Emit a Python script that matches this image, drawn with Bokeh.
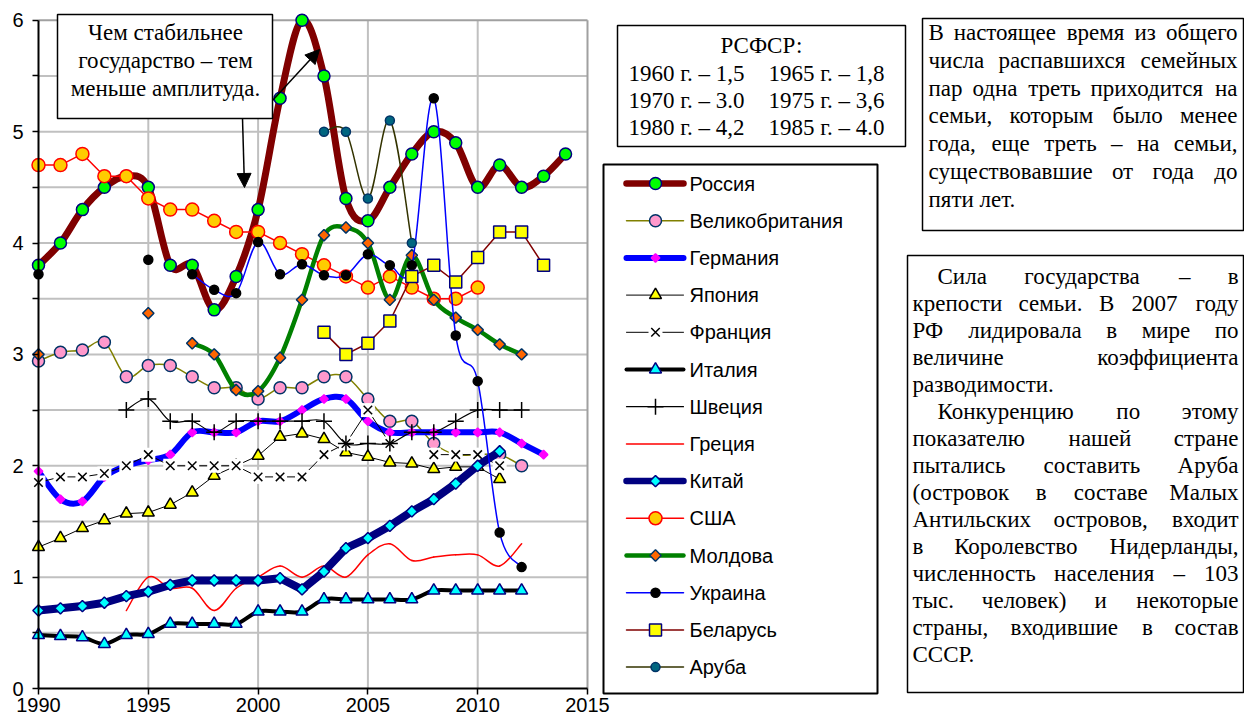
import math
from bokeh.plotting import figure
from bokeh.models import Range1d, FixedTicker, Arrow, NormalHead
from bokeh.embed import file_html
from bokeh.resources import INLINE
from bokeh.core.properties import value

# ---------------- data ----------------
N = None
years = list(range(1990, 2015))
russia = [3.8, 4.0, 4.3, 4.5, 4.6, 4.5, 3.8, 3.8, 3.4, 3.7, 4.3, 5.3, 6.0, 5.5, 4.4, 4.2, 4.5, 4.8, 5.0, 4.9, 4.5, 4.7, 4.5, 4.6, 4.8]
uk = [2.94, 3.02, 3.04, 3.11, 2.8, 2.9, 2.9, 2.8, 2.7, 2.7, 2.6, 2.7, 2.7, 2.8, 2.8, 2.6, 2.4, 2.4, 2.2, 2.1, 2.1, 2.1, 2.0, N, N]
germany = [1.95, 1.70, 1.68, 1.90, 2.0, 2.05, 2.1, 2.3, 2.3, 2.3, 2.4, 2.4, 2.5, 2.6, 2.6, 2.4, 2.3, 2.3, 2.3, 2.3, 2.3, 2.3, 2.2, 2.1, N]
japan = [1.27, 1.35, 1.44, 1.51, 1.57, 1.58, 1.65, 1.76, 1.91, 2.0, 2.09, 2.26, 2.29, 2.24, 2.12, 2.08, 2.03, 2.02, 1.97, 1.99, 1.99, 1.88, N, N, N]
france = [1.85, 1.9, 1.9, 1.93, 2.0, 2.1, 2.0, 2.0, 2.0, 2.0, 1.9, 1.9, 1.9, 2.1, 2.2, 2.5, 2.2, N, 2.1, 2.1, 2.1, 2.0, N, N, N]
italy = [0.48, 0.47, 0.46, 0.40, 0.48, 0.49, 0.58, 0.58, 0.58, 0.58, 0.69, 0.69, 0.69, 0.80, 0.80, 0.80, 0.80, 0.80, 0.88, 0.88, 0.88, 0.88, 0.88, N, N]
sweden = [N, N, N, N, 2.5, 2.6, 2.4, 2.4, 2.3, 2.4, 2.4, 2.4, 2.4, 2.4, 2.2, 2.2, 2.2, 2.3, 2.3, 2.4, 2.5, 2.5, 2.5, N, N]
greece = [N, N, N, N, 0.7, 1.0, 0.9, 0.9, 0.7, 0.9, 1.0, 1.1, 1.0, 1.1, 1.0, 1.2, 1.3, 1.15, 1.18, 1.2, 1.2, 1.1, 1.3, N, N]
china = [0.70, 0.72, 0.74, 0.77, 0.83, 0.87, 0.93, 0.97, 0.97, 0.97, 0.97, 0.99, 0.89, 1.05, 1.26, 1.35, 1.46, 1.59, 1.70, 1.84, 2.0, 2.13, N, N, N]
usa = [4.7, 4.7, 4.8, 4.6, 4.6, 4.4, 4.3, 4.3, 4.2, 4.1, 4.1, 4.0, 3.9, 3.8, 3.7, 3.6, 3.7, 3.6, 3.5, 3.5, 3.6, N, N, N, N]
moldova = [3.0, N, N, N, N, 3.37, N, 3.1, 3.0, 2.68, 2.67, 2.97, 3.49, 4.07, 4.14, 4.0, 3.49, 3.89, 3.49, 3.33, 3.22, 3.09, 3.0, N, N]
ukraine = [3.72, N, N, N, N, 3.85, N, 3.72, 3.58, 3.55, 4.01, 3.72, 3.81, 3.71, 3.71, 3.90, 3.80, 3.80, 5.30, 3.17, 2.76, 1.40, 1.09, N, N]
belarus = [N] * 13 + [3.2, 3.0, 3.1, 3.3, 3.7, 3.8, 3.65, 3.87, 4.1, 4.1, 3.8, N]
aruba = [N] * 13 + [5.0, 5.0, 4.4, 5.1, 4.0] + [N] * 7

names = ["Россия", "Великобритания", "Германия", "Япония", "Франция", "Италия", "Швеция",
         "Греция", "Китай", "США", "Молдова", "Украина", "Беларусь", "Аруба"]
series = [russia, uk, germany, japan, france, italy, sweden, greece, china, usa, moldova, ukraine, belarus, aruba]

x_ticks = [1990, 1995, 2000, 2005, 2010, 2015]
y_ticks = [0, 1, 2, 3, 4, 5, 6]
y_half = [0.5, 1.5, 2.5, 3.5, 4.5, 5.5]

note_lines = ["Чем стабильнее", "государство – тем", "меньше амплитуда."]
rsfsr_title = "РСФСР:"
rsfsr_left = ["1960 г. – 1,5", "1970 г. – 3.0", "1980 г. – 4,2"]
rsfsr_right = ["1965 г. – 1,8", "1975 г. – 3,6", "1985 г. – 4.0"]
box1_lines = ["В настоящее время из общего", "числа распавшихся семейных",
              "пар одна треть приходится на", "семьи, которым было менее",
              "года, еще треть – на семьи,", "существовавшие от года до", "пяти лет."]
box1_last = [6]
box2_lines = ["Сила государства – в", "крепости семьи. В 2007 году", "РФ лидировала в мире по",
              "величине коэффициента", "разводимости.", "Конкуренцию по этому",
              "показателю нашей стране", "пытались составить Аруба", "(островок в составе Малых",
              "Антильских островов, входит", "в Королевство Нидерланды,",
              "численность населения – 103", "тыс. человек) и некоторые",
              "страны, входившие в состав", "СССР."]
box2_indent = [0, 5]
box2_last = [4, 14]

# ---------------- styles ----------------
styles = [
    dict(color="#800000", width=7, smooth=True, marker="circle", size=12, fill="#00FF00", mline="#000080"),
    dict(color="#808000", width=1.5, smooth=True, marker="circle", size=12, fill="#FF99CC", mline="#003366"),
    dict(color="#0000FF", width=6, smooth=True, marker="square", size=6, fill="#FF00FF", mline="#FF00FF", angle=True),
    dict(color="#000000", width=1, smooth=False, marker="triangle", size=12, fill="#FFFF00", mline="#000000"),
    dict(color="#000000", width=1, smooth=False, marker="x", size=12, fill=None, mline="#000000", bg=True),
    dict(color="#000000", width=4, smooth=True, marker="triangle", size=12, fill="#00FFFF", mline="#000080"),
    dict(color="#000000", width=1.2, smooth=True, marker="cross", size=16, fill=None, mline="#000000"),
    dict(color="#FF0000", width=1.5, smooth=True, marker=None),
    dict(color="#000080", width=8, smooth=False, marker="square", size=8, fill="#00FFFF", mline="#000080", angle=True),
    dict(color="#FF0000", width=1.5, smooth=False, marker="circle", size=13, fill="#FFCC00", mline="#FF0000"),
    dict(color="#008000", width=4.5, smooth=True, marker="square", size=8, fill="#FF6600", mline="#003366", angle=True),
    dict(color="#0000FF", width=1.5, smooth=True, marker="circle", size=9, fill="#000000", mline="#000000"),
    dict(color="#800000", width=1.5, smooth=False, marker="square", size=12, fill="#FFFF00", mline="#000080"),
    dict(color="#333300", width=1.5, smooth=True, marker="circle", size=9, fill="#006680", mline="#003366"),
]

SANS = "Liberation Sans"
SERIF = "Liberation Serif"

# ---------------- geometry (page pixels) ----------------
W, H = 1244, 720
PX0, PX1 = 38.0, 587.0      # 1990 .. 2015
PY0, PY6 = 688.0, 19.8      # 0 .. 6
SX = (PX1 - PX0) / 25.0
SY = (PY0 - PY6) / 6.0


def X(px):
    return 1990 + (px - PX0) / SX


def Y(py):
    return (PY0 - py) / SY


def runs(xs, ys):
    out, cx, cy = [], [], []
    for x, y in zip(xs, ys):
        if y is None:
            if cx:
                out.append((cx, cy))
            cx, cy = [], []
        else:
            cx.append(x)
            cy.append(y)
    if cx:
        out.append((cx, cy))
    return out


def bezier_parts(xs, ys):
    m = len(xs)
    d = dict(x0=[], y0=[], x1=[], y1=[], cx0=[], cy0=[], cx1=[], cy1=[])
    for i in range(m - 1):
        a = i - 1 if i > 0 else i
        b = i + 2 if i + 2 < m else i + 1
        d["x0"].append(xs[i]); d["y0"].append(ys[i])
        d["x1"].append(xs[i + 1]); d["y1"].append(ys[i + 1])
        d["cx0"].append(xs[i] + (xs[i + 1] - xs[a]) / 6.0)
        d["cy0"].append(ys[i] + (ys[i + 1] - ys[a]) / 6.0)
        d["cx1"].append(xs[i + 1] - (xs[b] - xs[i]) / 6.0)
        d["cy1"].append(ys[i + 1] - (ys[b] - ys[i]) / 6.0)
    return d


def draw_markers(p, xs, ys, st):
    if not st.get("marker") or not xs:
        return
    if st.get("bg"):
        p.scatter(xs, ys, marker="square", size=st["size"] + 2, fill_color="white", line_color=None)
    kw = dict(marker=st["marker"], size=st["size"], line_color=st["mline"], line_width=1.5)
    if st.get("fill"):
        kw["fill_color"] = st["fill"]
    if st.get("angle"):
        kw["angle"] = math.pi / 4
    p.scatter(xs, ys, **kw)


def draw_series(p, ys, st):
    for rx, ry in runs(years, ys):
        if len(rx) < 2:
            continue
        if st["smooth"] and len(rx) > 2:
            p.bezier(line_color=st["color"], line_width=st["width"], line_cap="round", **bezier_parts(rx, ry))
        else:
            p.line(rx, ry, line_color=st["color"], line_width=st["width"], line_join="round", line_cap="round")
    mx = [x for x, y in zip(years, ys) if y is not None]
    my = [y for y in ys if y is not None]
    draw_markers(p, mx, my, st)


# ---------------- figure ----------------
p = figure(width=W, height=H, output_backend="svg", toolbar_location=None,
           x_range=Range1d(X(0), X(W)), y_range=Range1d(Y(H), Y(0)),
           min_border_left=0, min_border_right=0, min_border_top=0, min_border_bottom=0,
           background_fill_color="white", border_fill_color="white")
p.outline_line_color = None
p.xgrid.visible = False
p.ygrid.visible = False

# axes fixed at the chart origin
p.xaxis.fixed_location = 0
p.yaxis.fixed_location = 1990
p.xaxis.ticker = FixedTicker(ticks=x_ticks, minor_ticks=[])
p.yaxis.ticker = FixedTicker(ticks=y_ticks, minor_ticks=y_half)
p.xaxis.bounds = (1990, 2015)
p.yaxis.bounds = (0, 6)
for ax in (p.xaxis[0], p.yaxis[0]):
    ax.axis_line_color = "black"
    ax.axis_line_width = 2
    ax.major_tick_line_color = "black"
    ax.major_tick_line_width = 1.5
    ax.major_tick_in = 0
    ax.major_tick_out = 6
    ax.minor_tick_line_color = "black"
    ax.minor_tick_line_width = 1.5
    ax.minor_tick_in = 0
    ax.minor_tick_out = 6
    ax.major_label_text_font = SANS
    ax.major_label_text_font_size = "20px"
    ax.major_label_text_color = "black"
p.xaxis.major_label_standoff = 3
p.yaxis.major_label_standoff = 9

# grid lines limited to the chart area, plus the grey plot-area border
grid_y = y_half + y_ticks[1:6]
p.segment(x0=[1990] * len(grid_y), y0=grid_y, x1=[2015] * len(grid_y), y1=grid_y,
          line_color="#C0C0C0", line_width=2)
grid_x = x_ticks[1:5]
p.segment(x0=grid_x, y0=[0] * len(grid_x), x1=grid_x, y1=[6] * len(grid_x),
          line_color="#C0C0C0", line_width=2)
p.segment(x0=[1990, 2015], y0=[6, 0], x1=[2015, 2015], y1=[6, 6], line_color="#A0A0A0", line_width=2)

for ys, st in zip(series, styles):
    draw_series(p, ys, st)

# annotation box with arrows
p.quad(left=[X(57)], right=[X(272)], top=[Y(14)], bottom=[Y(118)],
       fill_color="white", line_color="black", line_width=1.5)
p.text(x=[X(165)] * 3, y=[Y(32), Y(60), Y(88)], text=note_lines,
       text_font=value(SERIF), text_font_size="23px", text_align="center",
       text_baseline="middle", text_color="black")
p.add_layout(Arrow(end=NormalHead(size=14, fill_color="black", line_color="black"),
                   x_start=X(242), y_start=Y(118), x_end=X(244), y_end=Y(187),
                   line_color="black", line_width=1.5))
p.add_layout(Arrow(end=NormalHead(size=14, fill_color="black", line_color="black"),
                   x_start=X(272), y_start=Y(100), x_end=X(319), y_end=Y(49),
                   line_color="black", line_width=1.5))

# legend
p.quad(left=[X(603)], right=[X(877)], top=[Y(164)], bottom=[Y(693)],
       fill_color="white", line_color="black", line_width=2)
leg_py = [183 + 37.2 * i for i in range(len(names))]
for py, st in zip(leg_py, styles):
    p.line([X(626), X(683)], [Y(py), Y(py)], line_color=st["color"], line_width=min(st["width"], 6.5),
           line_cap="round")
    draw_markers(p, [X(655)], [Y(py)], st)
p.text(x=[X(689)] * len(names), y=[Y(v) for v in leg_py], text=names, text_font=value(SANS),
       text_font_size="20px", text_align="left", text_baseline="middle", text_color="black")

# text width estimate (Times metrics, em units)
CW = {
    'а': .444, 'б': .509, 'в': .472, 'г': .410, 'д': .509, 'е': .444, 'ж': .691, 'з': .395, 'и': .535,
    'й': .535, 'к': .486, 'л': .499, 'м': .633, 'н': .535, 'о': .5, 'п': .535, 'р': .5, 'с': .444,
    'т': .437, 'у': .5, 'ф': .648, 'х': .5, 'ц': .535, 'ч': .503, 'ш': .77, 'щ': .77, 'ъ': .517,
    'ы': .672, 'ь': .456, 'э': .429, 'ю': .747, 'я': .486, ' ': .25, '.': .25, ',': .25, '–': .5,
    '(': .333, ')': .333, ':': .278,
}


def tw(s, fs):
    return sum(CW.get(c, .68 if c.isupper() else .5) for c in s) * fs


def justify(lines, xl, xr, y0, dy, fs, indents, lasts):
    lx, ly, lt, rx, ry, rt = [], [], [], [], [], []
    for i, line in enumerate(lines):
        y = y0 + dy * i
        ind = 25 if i in indents else 0
        words = line.split()
        if i in lasts or len(words) < 2:
            lx.append(xl + ind); ly.append(y); lt.append(line)
            continue
        widths = [tw(w, fs) for w in words]
        gap = (xr - xl - ind - sum(widths)) / (len(words) - 1)
        x = xl + ind
        for w, wd in zip(words[:-1], widths[:-1]):
            lx.append(x); ly.append(y); lt.append(w)
            x += wd + gap
        rx.append(xr); ry.append(y); rt.append(words[-1])
    common = dict(text_font=value(SERIF), text_font_size="%dpx" % fs, text_baseline="middle", text_color="black")
    p.text(x=[X(v) for v in lx], y=[Y(v) for v in ly], text=lt, text_align="left", **common)
    if rt:
        p.text(x=[X(v) for v in rx], y=[Y(v) for v in ry], text=rt, text_align="right", **common)


# RSFSR box
p.quad(left=[X(617)], right=[X(905)], top=[Y(25)], bottom=[Y(146)], fill_color="white", line_color="black",
       line_width=1.5)
ser = dict(text_font=value(SERIF), text_font_size="23px", text_baseline="middle", text_color="black")
p.text(x=[X(761)], y=[Y(45)], text=[rsfsr_title], text_align="center", **ser)
p.text(x=[X(628)] * 3, y=[Y(73), Y(100), Y(127)], text=rsfsr_left, text_align="left", **ser)
p.text(x=[X(768)] * 3, y=[Y(73), Y(100), Y(127)], text=rsfsr_right, text_align="left", **ser)

# top-right box
p.quad(left=[X(922)], right=[X(1243)], top=[Y(18)], bottom=[Y(230)], fill_color="white", line_color="black",
       line_width=1.5)
justify(box1_lines, 928, 1237, 32, 27.8, 23, [], box1_last)

# bottom-right box
p.quad(left=[X(907)], right=[X(1243)], top=[Y(255)], bottom=[Y(692)], fill_color="white", line_color="black",
       line_width=1.5)
justify(box2_lines, 912, 1238, 276, 27, 23, box2_indent, box2_last)

open("out.html", "w").write(file_html(p, INLINE))
